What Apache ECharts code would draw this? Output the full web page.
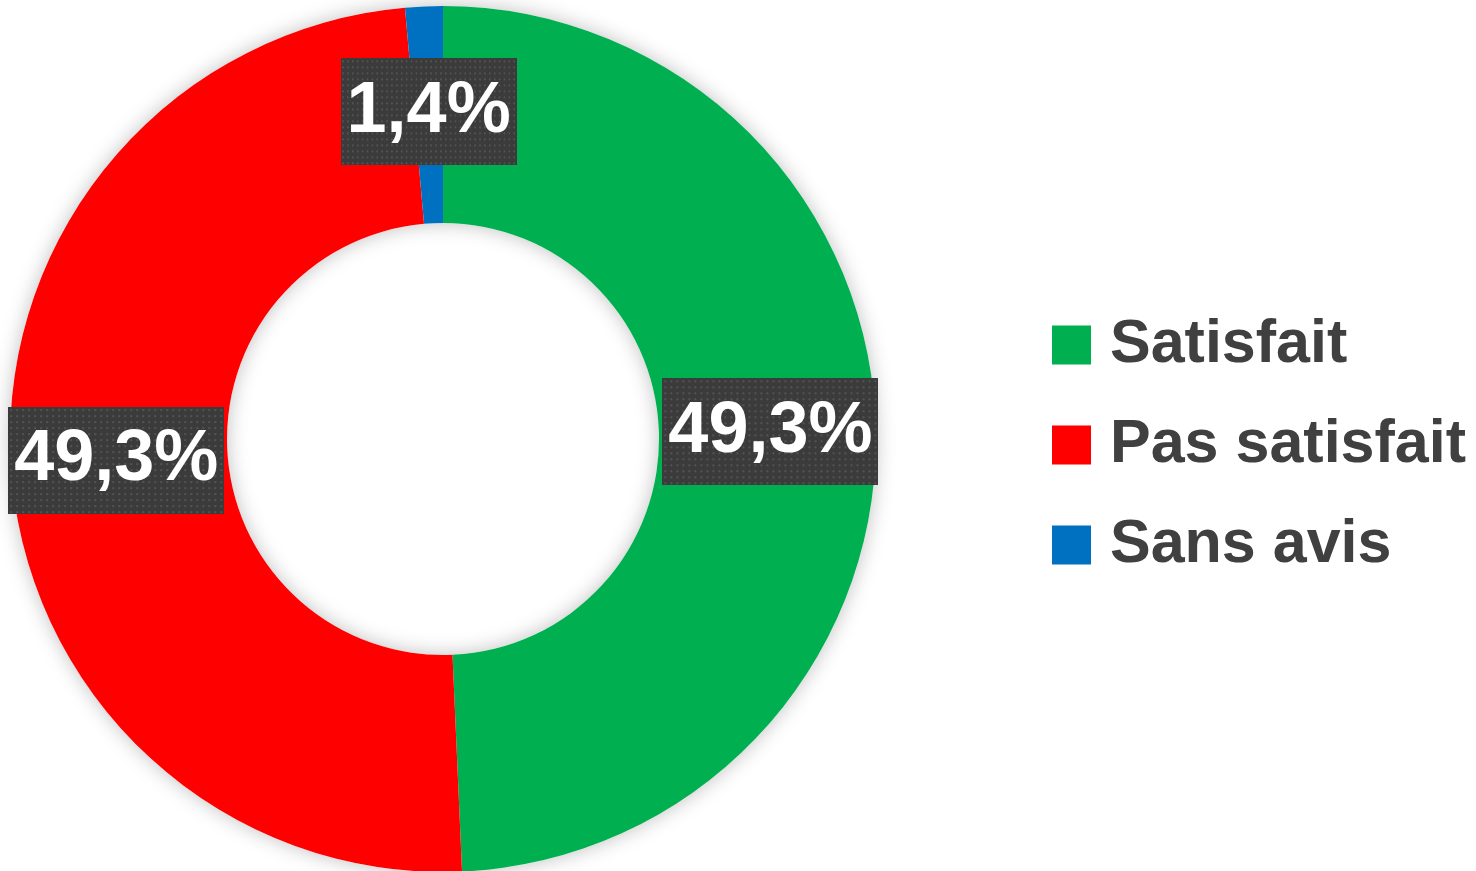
<!DOCTYPE html>
<html>
<head>
<meta charset="utf-8">
<script src="https://cdn.jsdelivr.net/npm/echarts@6/dist/echarts.min.js"></script>
<style>
  html, body { margin: 0; padding: 0; background: #fff; }
  #chart { width: 1476px; height: 871px; }
</style>
</head>
<body>
<div id="chart"></div>
<script>
const categories = ['Satisfait', 'Pas satisfait', 'Sans avis'];
const values = [49.3, 49.3, 1.4];
const colors = ['#00B050', '#FF0000', '#0070C0'];

const font = "'Liberation Sans Narrow', 'Liberation Sans', Arial, sans-serif";

// dotted dark background for the value boxes
const makePattern = () => {
  const c = document.createElement('canvas');
  c.width = 216;
  c.height = 107;
  const ctx = c.getContext('2d');
  ctx.fillStyle = '#3b3b3b';
  ctx.fillRect(0, 0, c.width, c.height);
  ctx.fillStyle = '#545454';
  for (let y = 2; y < c.height; y += 6) {
    for (let x = 2; x < c.width; x += 6) {
      ctx.fillRect(x, y, 2, 2);
    }
  }
  return c;
};

const myChart = echarts.init(document.getElementById('chart'));
const option = {
  animation: false,
  legend: {
    data: categories,
    orient: 'vertical',
    left: 1047,
    top: 300,
    icon: 'rect',
    itemWidth: 39,
    itemHeight: 39,
    itemGap: 20,
    selectedMode: false,
    textStyle: {
      fontFamily: font,
      fontWeight: 'bold',
      fontSize: 61,
      lineHeight: 80,
      color: '#404040',
      padding: [0, 0, 0, 14],
    },
  },
  series: [
    {
      type: 'pie',
      silent: true,
      center: [443, 439],
      radius: [216, 433],
      z: 1,
      label: { show: false },
      labelLine: { show: false },
      itemStyle: {
        color: '#ffffff',
        shadowBlur: 20,
        shadowColor: 'rgba(0,0,0,0.25)',
      },
      data: [{ name: 'bg', value: 1 }],
    },
    {
      type: 'pie',
      center: [443, 439],
      radius: [216, 433],
      startAngle: 90,
      clockwise: true,
      z: 2,
      avoidLabelOverlap: false,
      labelLine: { show: false },
      label: {
        show: true,
        position: 'inside',
        formatter: (p) => p.value.toFixed(1).replace('.', ',') + '%',
        fontFamily: font,
        fontWeight: 'bold',
        fontSize: 72,
        lineHeight: 90,
        color: '#ffffff',
        padding: [9, 6, 8, 6],
        backgroundColor: { image: makePattern() },
        shadowBlur: 8,
        shadowOffsetX: 4,
        shadowOffsetY: 4,
        shadowColor: 'rgba(0,0,0,0.45)',
      },
      data: categories.map((name, i) => ({
        name,
        value: values[i],
        itemStyle: { color: colors[i] },
      })),
    },
  ],
};
myChart.setOption(option);
window.addEventListener('resize', () => {
  myChart.resize();
});
</script>
</body>
</html>
